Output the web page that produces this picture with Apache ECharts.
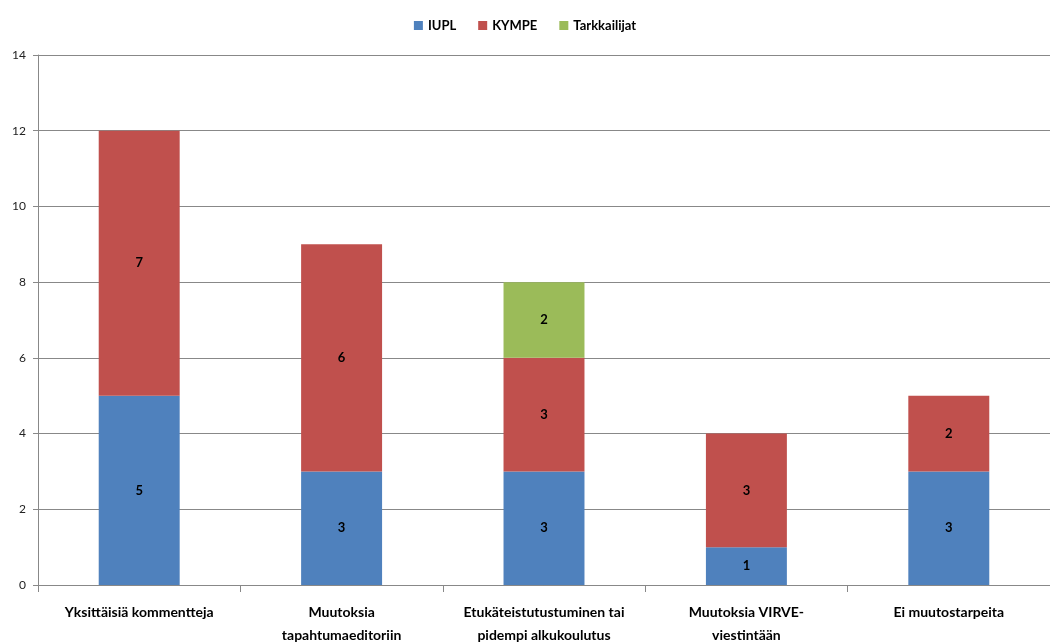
<!DOCTYPE html>
<html>
<head>
<meta charset="utf-8">
<script src="https://cdn.jsdelivr.net/npm/echarts@6/dist/echarts.min.js"></script>
<style>
  html, body { margin: 0; padding: 0; background: #fff; }
  #chart { width: 1050px; height: 642px; }
</style>
</head>
<body>
<div id="chart"></div>
<script>
const categories = [
  'Yksittäisiä kommentteja',
  'Muutoksia\ntapahtumaeditoriin',
  'Etukäteistutustuminen tai\npidempi alkukoulutus',
  'Muutoksia VIRVE-\nviestintään',
  'Ei muutostarpeita'
];
const iupl = [5, 3, 3, 1, 3];
const kympe = [7, 6, 3, 3, 2];
const tarkkailijat = [null, null, 2, null, null];
const yTicks = { min: 0, max: 14, interval: 2 };

const FONT = 'Lato, "Open Sans", sans-serif';

function barSeries(name, data, color) {
  return {
    name: name,
    type: 'bar',
    stack: 'total',
    data: data,
    barWidth: '40%',
    itemStyle: { color: color },
    label: {
      show: true,
      position: 'inside',
      color: '#000',
      fontFamily: FONT,
      fontWeight: 'bold',
      fontSize: 13,
      formatter: p => (p.value ? String(p.value) : '')
    }
  };
}

const chart = echarts.init(document.getElementById('chart'), null, { renderer: 'canvas' });
chart.setOption({
  animation: false,
  legend: {
    top: 14,
    left: 'center',
    itemWidth: 9,
    itemHeight: 9,
    itemGap: 22,
    icon: 'rect',
    textStyle: { fontFamily: FONT, fontWeight: 'bold', fontSize: 13, color: '#000' },
    data: ['IUPL', 'KYMPE', 'Tarkkailijat']
  },
  grid: { left: 38, right: 0, top: 55, bottom: 57, containLabel: false, outerBoundsMode: 'none' },
  xAxis: {
    type: 'category',
    data: categories,
    axisLine: { lineStyle: { color: '#888', width: 1 } },
    axisTick: { show: true, length: 7, lineStyle: { color: '#888' } },
    axisLabel: {
      interval: 0,
      margin: 16,
      fontFamily: FONT,
      fontWeight: 'bold',
      fontSize: 14,
      lineHeight: 23,
      color: '#000'
    }
  },
  yAxis: {
    type: 'value',
    min: yTicks.min,
    max: yTicks.max,
    interval: yTicks.interval,
    axisLine: { show: true, lineStyle: { color: '#888', width: 1 } },
    axisTick: { show: true, length: 5, lineStyle: { color: '#888' } },
    axisLabel: { fontFamily: FONT, fontSize: 12, color: '#222', margin: 12 },
    splitLine: { show: true, lineStyle: { color: '#888', width: 1 } }
  },
  series: [
    barSeries('IUPL', iupl, '#4F81BD'),
    barSeries('KYMPE', kympe, '#C0504D'),
    barSeries('Tarkkailijat', tarkkailijat, '#9BBB59')
  ]
});
</script>
</body>
</html>
